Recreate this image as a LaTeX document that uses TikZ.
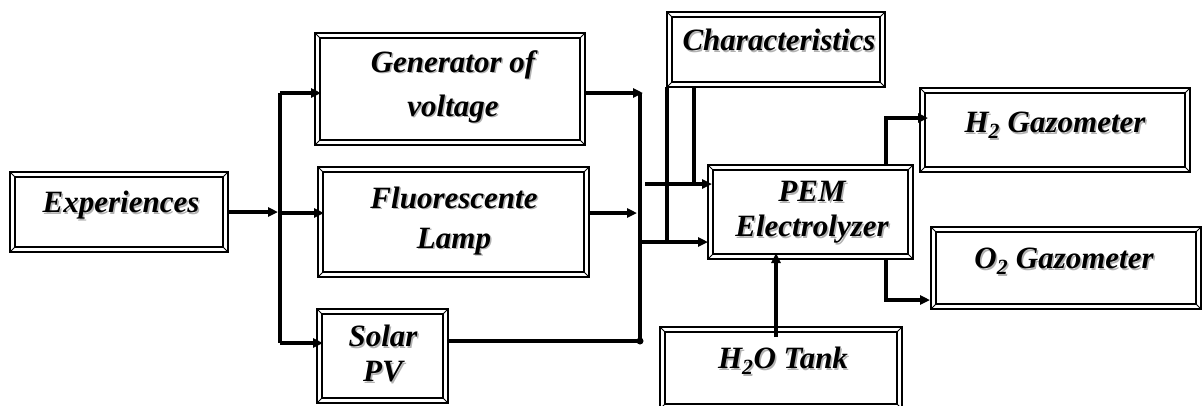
\documentclass[tikz,border=0pt]{standalone}
\usepackage{fontspec}
\setmainfont{Liberation Serif}
\usetikzlibrary{arrows.meta}
\tikzset{
  frm/.style={draw, line width=2pt, inner sep=0pt, outer sep=0pt},
  lbl/.style={align=center, inner sep=0pt, font=\fontsize{31}{38}\selectfont\bfseries\itshape},
  con/.style={line width=3.2pt},
  arr/.style={-{Triangle[length=10pt,width=9pt]}},
}
\newcommand\innerframe[1]{%
  \draw[line width=1.2pt] ([shift={(5pt,-5pt)}]#1.north west) rectangle ([shift={(-5pt,5pt)}]#1.south east);
  \draw[line width=0.8pt] (#1.north west) -- ++(5pt,-5pt) (#1.north east) -- ++(-5pt,-5pt)
     (#1.south west) -- ++(5pt,5pt) (#1.south east) -- ++(-5pt,5pt);}
\newcommand\shd[1]{\makebox[0pt][l]{\kern1.5pt\raisebox{-1.5pt}{\color{black!30}\begin{tabular}{@{}c@{}}#1\end{tabular}}}\begin{tabular}{@{}c@{}}#1\end{tabular}}
\begin{document}
\begin{tikzpicture}[x=1pt,y=-1pt]
\useasboundingbox (0,0) rectangle (1202,405);
\clip (0,0) rectangle (1202,405);
% boxes
\node[frm, minimum width=218pt, minimum height=80pt] (exp) at (119,212) {};
\node[frm, minimum width=270pt, minimum height=112pt] (gen) at (450,89) {};
\node[frm, minimum width=271pt, minimum height=110pt] (flu) at (453.5,222) {};
\node[frm, minimum width=131pt, minimum height=94pt] (sol) at (382.5,356) {};
\node[frm, minimum width=218pt, minimum height=75pt] (cha) at (776,49.5) {};
\node[frm, minimum width=205pt, minimum height=94pt] (pem) at (810.5,212) {};
\node[frm, minimum width=270pt, minimum height=84pt] (h2) at (1055,130) {};
\node[frm, minimum width=270pt, minimum height=82pt] (o2) at (1066,268) {};
\node[frm, minimum width=242pt, minimum height=82pt] (tank) at (781,368) {};
\foreach \n in {exp,gen,flu,sol,cha,pem,h2,o2,tank}{\innerframe{\n}}
% texts
\node[lbl] (exp-t) at (121,206) {\shd{Experiences}};
\node[lbl, font=\fontsize{31}{44}\selectfont\bfseries\itshape] (gen-t) at (453,86) {\shd{Generator of\\voltage}};
\node[lbl, font=\fontsize{31}{40}\selectfont\bfseries\itshape] (flu-t) at (454,221) {\shd{Fluorescente\\Lamp}};
\node[lbl, font=\fontsize{31}{35}\selectfont\bfseries\itshape] (sol-t) at (383,358) {\shd{Solar\\PV}};
\node[lbl] (cha-t) at (779,44) {\shd{Characteristics}};
\node[lbl, font=\fontsize{31}{35}\selectfont\bfseries\itshape] (pem-t) at (812,213) {\shd{PEM\\Electrolyzer}};
\node[lbl] (h2-t) at (1055,126) {\shd{H\textsubscript{2} Gazometer}};
\node[lbl] (o2-t) at (1064,262) {\shd{O\textsubscript{2} Gazometer}};
\node[lbl] (tank-t) at (783,362) {\shd{H\textsubscript{2}O Tank}};
% coordinates
\coordinate (lbT) at (280,93);
\coordinate (lbB) at (280,343);
\coordinate (lbE) at (278,212);
\coordinate (flY) at (280,213);
\coordinate (rbT) at (640,93);
\coordinate (rbB) at (640,341);
\coordinate (frY) at (637,213);
\coordinate (pU) at (645,184);
\coordinate (pL) at (640,242);
\coordinate (cv1) at (667,242);
\coordinate (cv2) at (694,184);
\coordinate (h2c) at (886,118);
\coordinate (o2c) at (886,300);
\coordinate (tkx) at (776,337);
% left bus
\draw[con] (lbT) -- (lbB);
\draw[con,arr] (exp.east) -- (lbE);
\draw[con,arr,shorten >=-6pt] (lbT) -- (gen.west |- lbT);
\draw[con,arr,shorten >=-6pt] (flY) -- (flu.west |- flY);
\draw[con,arr,shorten >=-6pt] (lbB) -- (sol.west |- lbB);
% right bus
\draw[con,arr,shorten >=-3pt] (gen.east |- rbT) -- (rbT);
\draw[con] (rbT) -- (rbB);
\draw[con,arr] (flu.east |- frY) -- (frY);
\draw[con] (sol.east |- rbB) -- (rbB);
\fill (rbB) circle (3.5pt);
% to PEM
\draw[con,arr,shorten >=-4pt] (pU) -- (pem.west |- pU);
\draw[con,arr] (pL) -- (pem.west |- pL);
\draw[con] (cha.south west -| cv1) -- (cv1);
\draw[con] (cha.south -| cv2) -- (cv2);
% outputs
\draw[con,arr,shorten >=-8pt] (pem.north -| h2c) -- (h2c) -- (h2.west |- h2c);
\draw[con,arr,shorten >=1pt] (pem.south -| o2c) -- (o2c) -- (o2.west |- o2c);
\draw[con,arr,shorten >=-6pt] (tkx) -- (pem.south -| tkx);
\end{tikzpicture}
\end{document}
